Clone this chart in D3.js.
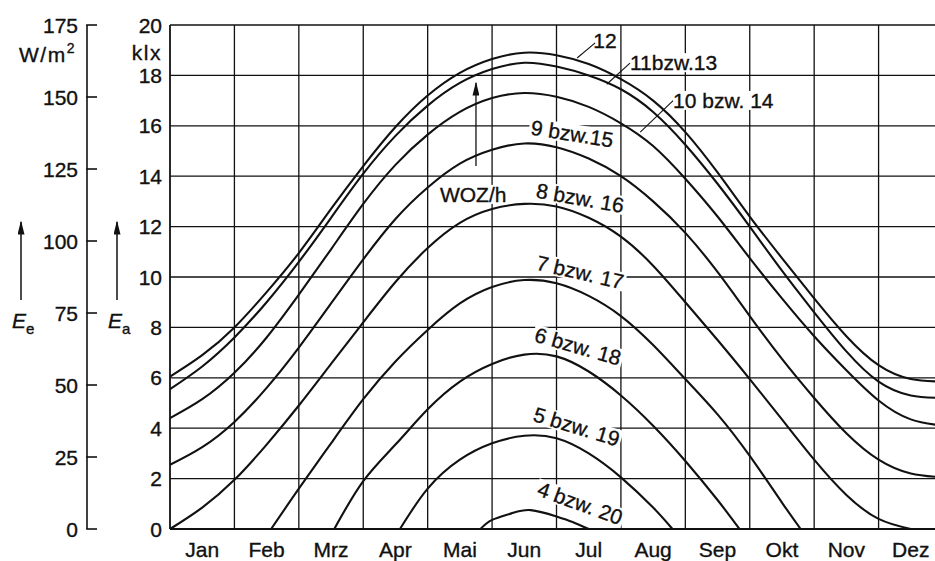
<!DOCTYPE html>
<html><head><meta charset="utf-8">
<script src="https://cdn.jsdelivr.net/npm/d3@7"></script>
<style>
body{margin:0;background:#fff}
svg{display:block}
text{font-family:"Liberation Sans",Arial,sans-serif;fill:#111;stroke:#111;stroke-width:0.35px}
</style>
</head><body>
<svg id="c" width="935" height="561"></svg>
<script>
// ---------- data ----------
const months = ["Jan","Feb","Mrz","Apr","Mai","Jun","Jul","Aug","Sep","Okt","Nov","Dez"];
const klxTicks = [0,2,4,6,8,10,12,14,16,18,20];
const wTicks = [0,25,50,75,100,125,150,175];
// half-month positions (0 = 1 Jan, 12 = 31 Dez)
const halfMonths = [0,0.5,1,1.5,2,2.5,3,3.5,4,4.5,5,5.5,6,6.5,7,7.5,8,8.5,9,9.5,10,10.5,11,11.5,12];
// illuminance in klx at those positions (hour of true solar time)
const h12    = [6.05,6.9,8.0,9.4,10.95,12.7,14.4,15.95,17.2,18.1,18.65,18.9,18.8,18.45,17.85,17.0,15.75,14.15,12.4,10.75,9.15,7.65,6.5,5.95,5.85];
const h11_13 = [5.55,6.45,7.6,9.0,10.6,12.35,14.1,15.6,16.8,17.7,18.25,18.5,18.35,18.0,17.45,16.55,15.25,13.7,12.0,10.25,8.6,7.05,5.85,5.3,5.2];
const h10_14 = [4.4,5.15,6.2,7.6,9.3,11.1,12.9,14.45,15.65,16.55,17.1,17.3,17.15,16.75,16.1,15.2,13.9,12.4,10.75,9.15,7.65,6.3,5.1,4.35,4.1];
const h9_15  = [2.55,3.25,4.25,5.6,7.2,8.95,10.7,12.3,13.55,14.5,15.05,15.3,15.15,14.7,14.0,13.0,11.75,10.2,8.45,6.75,5.2,3.8,2.75,2.2,2.05];
const h8_16  = [0,0.85,1.95,3.35,4.9,6.55,8.2,9.8,11.15,12.15,12.7,12.9,12.8,12.35,11.6,10.45,9.0,7.5,5.95,4.35,2.75,1.35,0.4,0,null];
const h7_17  = [null,null,null,null,1.6,3.4,5.15,6.65,7.9,8.95,9.6,9.88,9.75,9.25,8.45,7.3,5.95,4.55,2.9,1.05,null,null,null,null,null];
const h6_18  = [null,null,null,null,null,null,1.9,3.35,4.75,5.85,6.55,6.92,6.85,6.25,5.3,4.1,2.7,1.15,null,null,null,null,null,null,null];
const h5_19  = [null,null,null,null,null,null,null,null,1.6,2.75,3.4,3.7,3.6,3.0,2.05,0.85,null,null,null,null,null,null,null,null,null];
// points where the curves meet the 0 line: [month, klx]
const zeroStart = {h7_17:[1.57,0], h6_18:[2.55,0], h5_19:[3.57,0]};
const zeroEnd   = {h7_17:[9.79,0], h6_18:[8.84,0], h5_19:[7.8,0]};
const h4_20  = [[4.82,0],[5,0.36],[5.3,0.62],[5.6,0.75],[6,0.5],[6.25,0.28],[6.5,0]];

// curve labels: text, anchor [month, klx], rotation
const curveLabels = [
  ["9 bzw.15",   5.59, 15.65, 9],
  ["8 bzw. 16",  5.67, 13.15, 10],
  ["7 bzw. 17",  5.67, 10.3, 13],
  ["6 bzw. 18",  5.64, 7.45, 16],
  ["5 bzw. 19",  5.62, 4.3, 17],
  ["4 bzw. 20",  5.68, 1.35, 20]
];
// labels with leader lines: text, text anchor [m,klx], leader from [m,klx] to [m,klx]
const leaderLabels = [
  ["12",         6.57, 19.09, 6.32, 18.69, 6.60, 19.29],
  ["11bzw.13",   7.14, 18.21, 6.78, 17.65, 7.14, 18.49],
  ["10 bzw. 14", 7.81, 16.71, 7.30, 15.75, 7.81, 17.0]
];

// build point lists
function pts(vals, name){
  const p = halfMonths.map((m,i)=>[m, vals[i]]).filter(d=>d[1]!==null);
  if (zeroStart[name]) p.unshift(zeroStart[name]);
  if (zeroEnd[name]) p.push(zeroEnd[name]);
  return p;
}
const seriesList = [pts(h12),pts(h11_13),pts(h10_14),pts(h9_15),pts(h8_16),
  pts(h7_17,"h7_17"),pts(h6_18,"h6_18"),pts(h5_19,"h5_19"),h4_20];

// ---------- scales ----------
const svg = d3.select("#c");
const x = d3.scaleLinear().domain([0,12]).range([170,943]);
const y = d3.scaleLinear().domain([0,20]).range([529,25]);
const yw = d3.scaleLinear().domain([0,175]).range([529,25]);
const FS = 21;

// ---------- grid ----------
const g = svg.append("g").attr("stroke","#111").attr("fill","none");
g.selectAll("line.h").data(klxTicks.filter(d=>d>0)).join("line")
  .attr("x1",x(0)).attr("x2",x(12)).attr("y1",d=>y(d)).attr("y2",d=>y(d))
  .attr("stroke-width",d=>d===20?1.6:1.3);
g.selectAll("line.v").data(d3.range(1,12)).join("line")
  .attr("x1",d=>x(d)).attr("x2",d=>x(d)).attr("y1",y(0)).attr("y2",y(20))
  .attr("stroke-width",1.3);
const bgLayer = svg.append("g");
const curveLayer = svg.append("g");
const labelLayer = svg.append("g");
g.append("line").attr("x1",x(0)).attr("x2",x(0)).attr("y1",y(0)).attr("y2",y(20)).attr("stroke-width",1.8);
g.append("line").attr("x1",x(0)).attr("x2",x(12)).attr("y1",y(0)).attr("y2",y(0)).attr("stroke-width",1.8);

// ---------- klx axis labels ----------
svg.append("g").selectAll("text").data(klxTicks).join("text")
  .attr("x",162).attr("y",d=>y(d)).attr("dy","0.36em")
  .attr("text-anchor","end").attr("font-size",FS).text(d=>d);
svg.append("text").attr("x",162).attr("y",60).attr("text-anchor","end").attr("font-size",FS)
  .attr("letter-spacing",1.5).text("klx");

// ---------- W/m2 axis ----------
const ga = svg.append("g").attr("stroke","#111");
ga.append("line").attr("x1",87).attr("x2",87).attr("y1",yw(0)).attr("y2",yw(175)).attr("stroke-width",1.6);
ga.selectAll("line.t").data(wTicks).join("line")
  .attr("x1",86.2).attr("x2",97).attr("y1",d=>yw(d)).attr("y2",d=>yw(d)).attr("stroke-width",1.6);
svg.append("g").selectAll("text").data(wTicks).join("text")
  .attr("x",78).attr("y",d=>yw(d)).attr("dy","0.36em")
  .attr("text-anchor","end").attr("font-size",FS).text(d=>d);
const wm = svg.append("text").attr("x",76).attr("y",62).attr("text-anchor","end").attr("font-size",FS).attr("letter-spacing",1.5);
wm.append("tspan").text("W/m");
wm.append("tspan").attr("font-size",14).attr("dy",-9).text("2");

// ---------- month labels ----------
svg.append("g").selectAll("text").data(months).join("text")
  .attr("x",(d,i)=>x(i+0.5)).attr("y",557).attr("text-anchor","middle")
  .attr("font-size",FS).text(d=>d);

// ---------- arrows ----------
const defs = svg.append("defs");
defs.append("marker").attr("id","ah").attr("viewBox","0 0 20 10").attr("refX",18).attr("refY",5)
  .attr("markerWidth",18).attr("markerHeight",7).attr("markerUnits","userSpaceOnUse").attr("orient","auto")
  .append("path").attr("d","M0,0 L20,5 L0,10 Z").attr("fill","#111");
[[21,"E","e"],[117,"E","a"]].forEach(([ax,t,s])=>{
  svg.append("line").attr("x1",ax).attr("x2",ax).attr("y1",300).attr("y2",222)
    .attr("stroke","#111").attr("stroke-width",1.5).attr("marker-end","url(#ah)");
  const tx = svg.append("text").attr("x",ax-9).attr("y",328).attr("font-size",FS);
  tx.append("tspan").attr("font-style","italic").text(t);
  tx.append("tspan").attr("font-size",15).attr("dy",6).text(s);
});

// ---------- curves ----------
const line = d3.line().x(d=>x(d[0])).y(d=>y(d[1])).curve(d3.curveNatural);
curveLayer.selectAll("path").data(seriesList).join("path")
  .attr("d",line).attr("fill","none").attr("stroke","#111").attr("stroke-width",2.1);

// ---------- labels with white boxes behind (breaking the grid) ----------
function boxed(sel, transform){
  sel.attr("transform",transform);
  const bb = sel.node().getBBox();
  bgLayer.append("rect").attr("transform",transform)
    .attr("x",bb.x-2).attr("y",bb.y+2).attr("width",bb.width+4).attr("height",bb.height-4)
    .attr("fill","#fff");
}
curveLabels.forEach(d=>{
  const t = labelLayer.append("text").attr("font-size",FS).text(d[0]);
  boxed(t, `translate(${x(d[1])},${y(d[2])}) rotate(${d[3]})`);
});
leaderLabels.forEach(d=>{
  labelLayer.append("line").attr("x1",x(d[3])).attr("y1",y(d[4])).attr("x2",x(d[5])).attr("y2",y(d[6]))
    .attr("stroke","#111").attr("stroke-width",1.1);
  const t = labelLayer.append("text").attr("font-size",FS).text(d[0]);
  boxed(t, `translate(${x(d[1])},${y(d[2])})`);
});
// WOZ/h with arrow
labelLayer.append("line").attr("x1",x(4.75)).attr("x2",x(4.75)).attr("y1",y(14.4)).attr("y2",y(17.7))
  .attr("stroke","#111").attr("stroke-width",1.3).attr("marker-end","url(#ah)");
const woz = labelLayer.append("text").attr("font-size",FS).text("WOZ/h");
boxed(woz, `translate(${x(4.19)},${y(12.98)})`);
</script>
</body></html>
